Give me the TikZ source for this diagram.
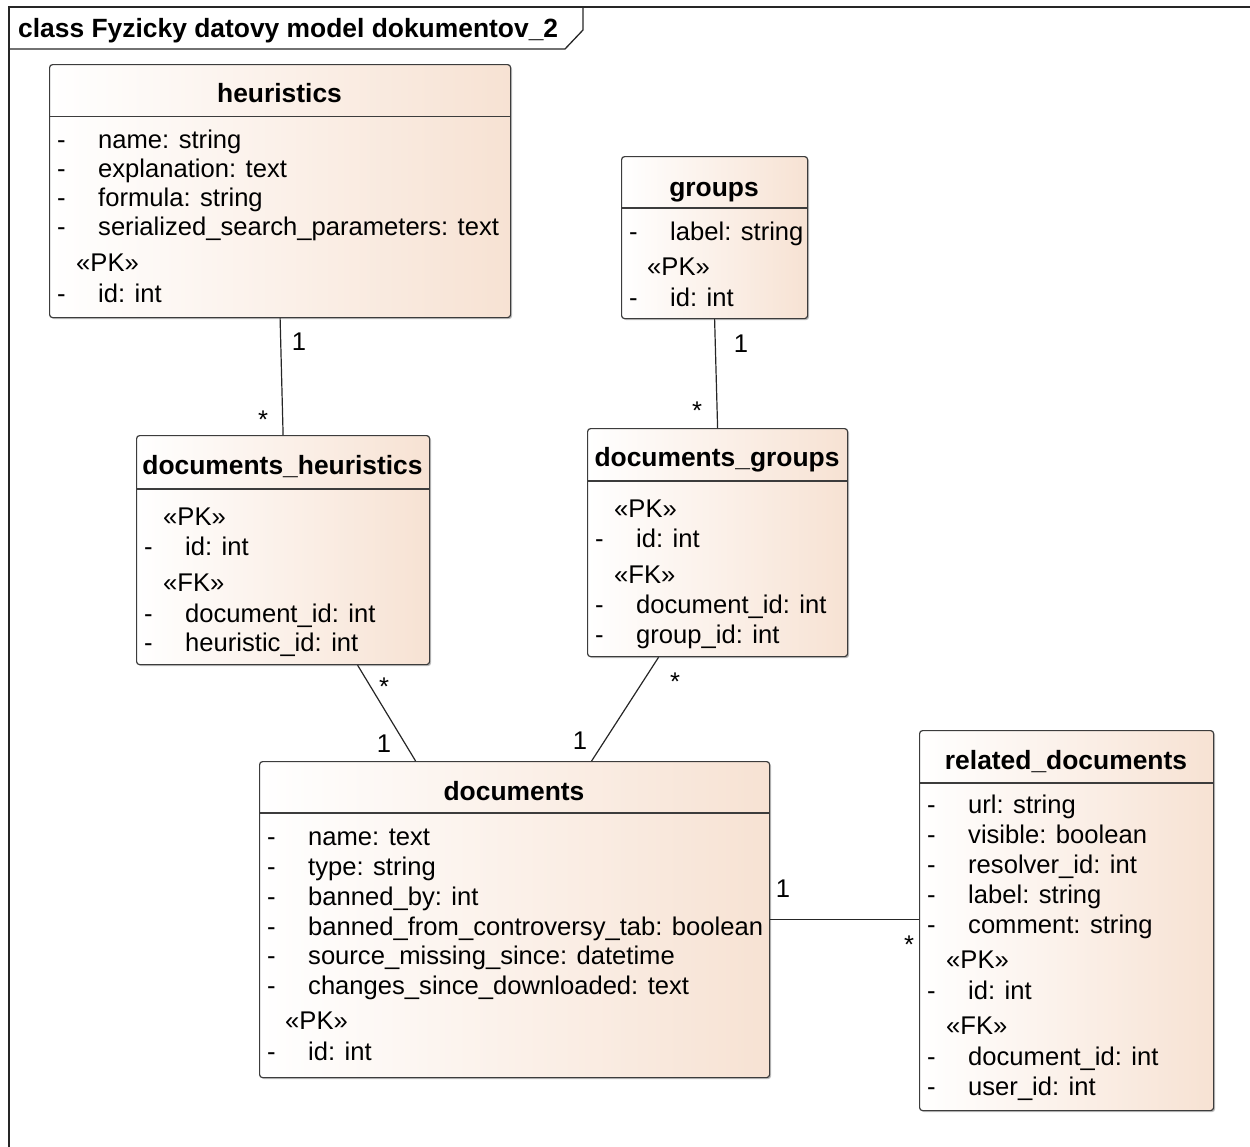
\documentclass[tikz,border=0pt]{standalone}
\usepackage{fontspec}
\setmainfont{Liberation Sans}
\usetikzlibrary{shadows}
\definecolor{peach}{RGB}{247,226,211}
\definecolor{edge}{RGB}{60,60,60}
\tikzset{
  cls/.style={draw=edge, line width=1.2pt, rounded corners=3pt,
    left color=white, right color=peach, inner sep=0pt, anchor=north west,
    drop shadow={shadow xshift=1.5pt, shadow yshift=-1.5pt, fill=black, opacity=0.25}},
  sep/.style={draw=edge, line width=1.2pt},
  ttl/.style={font=\bfseries\fontsize{26.4}{30}\selectfont, anchor=base, inner sep=0pt},
  attr/.style={font=\fontsize{25.6}{30}\selectfont, anchor=base west, inner sep=0pt},
  mult/.style={font=\fontsize{25.6}{30}\selectfont, anchor=base, inner sep=0pt},
  conn/.style={draw=black!85, line width=1.2pt},
}
\begin{document}
\begin{tikzpicture}[x=1pt, y=-1pt]
\useasboundingbox (0,0) rectangle (1250,1146);

% diagram frame with name tab
\draw[line width=1.6pt, black!85] (9,1160) -- (9,7) -- (1260,7);
\draw[line width=1.3pt, black!85] (9,49) -- (565,49) -- (583,30) -- (583,7);
\node[font=\bfseries\fontsize{26.4}{30}\selectfont, anchor=base west, inner sep=0pt] (frametitle) at (18,37) {class Fyzicky datovy model dokumentov\_2};

% ---------- heuristics ----------
\node[cls, minimum width=461pt, minimum height=253pt] (heur) at (49,64) {};
\draw[sep] ([yshift=-52.5pt]heur.north west) -- ([yshift=-52.5pt]heur.north east);
\node[ttl] (heurT) at (279.5,102) {heuristics};
\foreach \y/\t [count=\i] in {148/name: string, 177/explanation: text, 206/formula: string, 235/serialized\_search\_parameters: text, 302/id: int} {
  \node[attr] (heurD\i) at (57,\y) {-};
  \node[attr] (heurA\i) at (98,\y) {\t};
}
\node[attr] (heurPK) at (76,271) {«PK»};

% ---------- groups ----------
\node[cls, minimum width=186pt, minimum height=162pt] (grp) at (621,156) {};
\draw[sep] ([yshift=-52pt]grp.north west) -- ([yshift=-52pt]grp.north east);
\node[ttl] (grpT) at (714,196) {groups};
\foreach \y/\t [count=\i] in {240/label: string, 306/id: int} {
  \node[attr] (grpD\i) at (629,\y) {-};
  \node[attr] (grpA\i) at (670,\y) {\t};
}
\node[attr] (grpPK) at (647,275) {«PK»};

% ---------- documents_heuristics ----------
\node[cls, minimum width=293pt, minimum height=229pt] (dh) at (136,435) {};
\draw[sep] ([yshift=-54pt]dh.north west) -- ([yshift=-54pt]dh.north east);
\node[ttl] (dhT) at (282.5,474) {documents\_heuristics};
\foreach \y/\t [count=\i] in {555/id: int, 622/document\_id: int, 651/heuristic\_id: int} {
  \node[attr] (dhD\i) at (144,\y) {-};
  \node[attr] (dhA\i) at (185,\y) {\t};
}
\node[attr] (dhPK) at (163,525) {«PK»};
\node[attr] (dhFK) at (163,591) {«FK»};

% ---------- documents_groups ----------
\node[cls, minimum width=260pt, minimum height=228pt] (dg) at (587,428) {};
\draw[sep] ([yshift=-53pt]dg.north west) -- ([yshift=-53pt]dg.north east);
\node[ttl] (dgT) at (717,466) {documents\_groups};
\foreach \y/\t [count=\i] in {547/id: int, 613/document\_id: int, 643/group\_id: int} {
  \node[attr] (dgD\i) at (595,\y) {-};
  \node[attr] (dgA\i) at (636,\y) {\t};
}
\node[attr] (dgPK) at (614,517) {«PK»};
\node[attr] (dgFK) at (614,583) {«FK»};

% ---------- documents ----------
\node[cls, minimum width=510pt, minimum height=316pt] (docs) at (259,761) {};
\draw[sep] ([yshift=-52pt]docs.north west) -- ([yshift=-52pt]docs.north east);
\node[ttl] (docsT) at (514,800) {documents};
\foreach \y/\t [count=\i] in {845/name: text, 875/type: string, 905/banned\_by: int, 935/banned\_from\_controversy\_tab: boolean, 964/source\_missing\_since: datetime, 994/changes\_since\_downloaded: text, 1060/id: int} {
  \node[attr] (docsD\i) at (267,\y) {-};
  \node[attr] (docsA\i) at (308,\y) {\t};
}
\node[attr] (docsPK) at (285,1029) {«PK»};

% ---------- related_documents ----------
\node[cls, minimum width=294pt, minimum height=380pt] (rel) at (919,730) {};
\draw[sep] ([yshift=-53pt]rel.north west) -- ([yshift=-53pt]rel.north east);
\node[ttl] (relT) at (1066,769) {related\_documents};
\foreach \y/\t [count=\i] in {813/url: string, 843/visible: boolean, 873/resolver\_id: int, 903/label: string, 933/comment: string, 999/id: int, 1065/document\_id: int, 1095/user\_id: int} {
  \node[attr] (relD\i) at (927,\y) {-};
  \node[attr] (relA\i) at (968,\y) {\t};
}
\node[attr] (relPK) at (946,968) {«PK»};
\node[attr] (relFK) at (946,1034) {«FK»};

% ---------- associations ----------
\draw[conn] (heur.south) -- (dh.north);
\draw[conn] (grp.south) -- (dg.north);
\draw[conn] ([xshift=74.5pt]dh.south) -- ([xshift=-99pt]docs.north);
\draw[conn] ([xshift=-59pt]dg.south) -- ([xshift=77pt]docs.north);
\draw[conn] (docs.east) -- (docs.east -| rel.west);

% multiplicities
\node[mult] (m1) at (299,350) {1};
\node[mult] (m2) at (263,428) {*};
\node[mult] (m3) at (741,352) {1};
\node[mult] (m4) at (697,419) {*};
\node[mult] (m5) at (384,695) {*};
\node[mult] (m6) at (384,752) {1};
\node[mult] (m7) at (675,690) {*};
\node[mult] (m8) at (580,749) {1};
\node[mult] (m9) at (783,897) {1};
\node[mult] (m10) at (909,953) {*};
\end{tikzpicture}
\end{document}
